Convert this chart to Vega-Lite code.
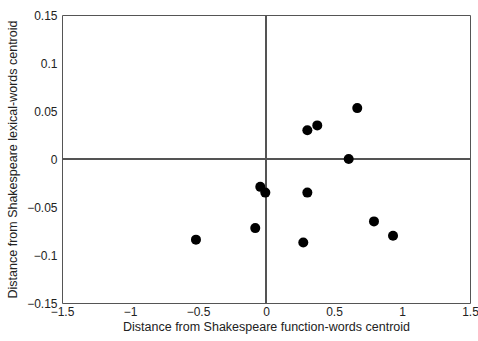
{
  "$schema": "https://vega.github.io/schema/vega-lite/v6.json",
  "width": 408,
  "height": 288,
  "autosize": {"type": "none"},
  "padding": {"left": 62, "top": 15, "right": 8, "bottom": 38},
  "background": "white",
  "config": {
    "view": {"stroke": "#555", "strokeWidth": 1},
    "font": "Liberation Sans",
    "axis": {
      "grid": false,
      "ticks": false,
      "domain": false,
      "labelFont": "Liberation Sans",
      "titleFont": "Liberation Sans",
      "labelFontSize": 12,
      "titleFontSize": 12.5,
      "titleFontWeight": "normal",
      "labelColor": "#222",
      "titleColor": "#222",
      "labelOverlap": false,
      "labelFlush": false,
      "labelBound": false
    }
  },
  "data": {
    "values": [
      {"fx": 0.671, "lx": 0.053},
      {"fx": 0.304, "lx": 0.030},
      {"fx": 0.377, "lx": 0.035},
      {"fx": 0.608, "lx": 0.0},
      {"fx": -0.042, "lx": -0.029},
      {"fx": -0.005, "lx": -0.035},
      {"fx": 0.304, "lx": -0.035},
      {"fx": -0.079, "lx": -0.072},
      {"fx": 0.274, "lx": -0.087},
      {"fx": 0.794, "lx": -0.065},
      {"fx": 0.934, "lx": -0.080},
      {"fx": -0.515, "lx": -0.084}
    ]
  },
  "layer": [
    {
      "mark": {"type": "rule", "color": "#555", "strokeWidth": 1},
      "encoding": {"x": {"datum": 0, "type": "quantitative", "scale": {"domain": [-1.5, 1.5]}}}
    },
    {
      "mark": {"type": "rule", "color": "#555", "strokeWidth": 1},
      "encoding": {"y": {"datum": 0, "type": "quantitative", "scale": {"domain": [-0.15, 0.15]}}}
    },
    {
      "mark": {"type": "circle", "color": "black", "opacity": 1, "size": 100},
      "encoding": {
        "x": {
          "field": "fx",
          "type": "quantitative",
          "scale": {"domain": [-1.5, 1.5], "nice": false, "zero": false},
          "axis": {
            "values": [-1.5, -1, -0.5, 0, 0.5, 1, 1.5],
            "format": ".1~f",
            "labelPadding": 3,
            "title": "Distance from Shakespeare function-words centroid",
            "titlePadding": 3
          }
        },
        "y": {
          "field": "lx",
          "type": "quantitative",
          "scale": {"domain": [-0.15, 0.15], "nice": false, "zero": false},
          "axis": {
            "values": [-0.15, -0.1, -0.05, 0, 0.05, 0.1, 0.15],
            "format": ".2~f",
            "labelPadding": 5,
            "title": "Distance from Shakespeare lexical-words centroid",
            "titlePadding": 7
          }
        }
      }
    }
  ]
}
